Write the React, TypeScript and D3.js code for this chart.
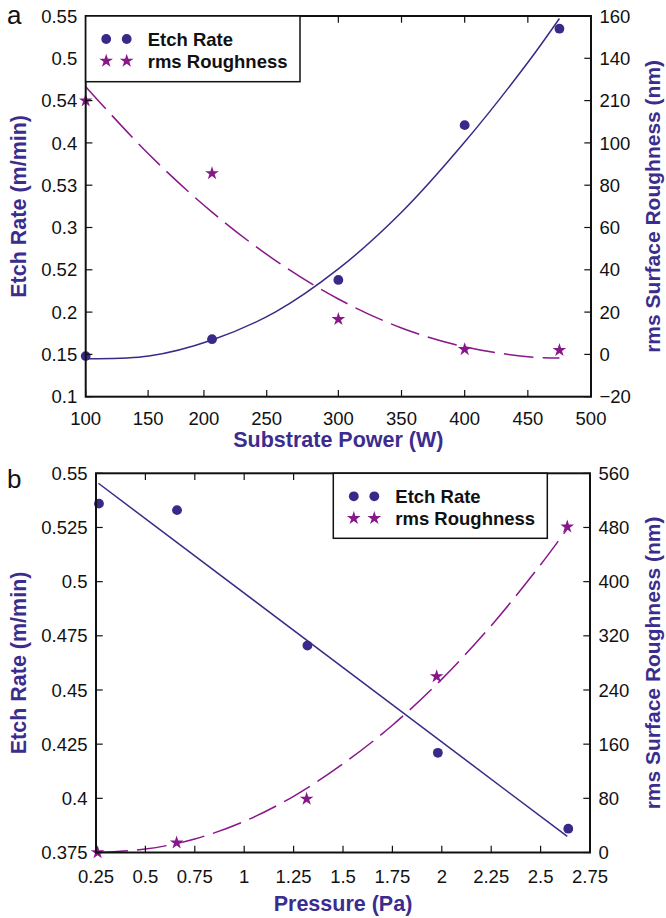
import React from 'react';
import * as d3 from 'd3';

// ---------- Panel a data ----------
const powerW = [100, 200, 300, 400, 475];
const etchRateA = [0.148, 0.168, 0.238, 0.421, 0.535];
const roughnessA = [120, 85.6, 16.6, 2.4, 2.0];
const etchFitPowerA = [100, 150, 200, 250, 300, 350, 400, 450, 475];
const etchFitA = [0.145, 0.148, 0.167, 0.2, 0.251, 0.318, 0.401, 0.495, 0.547];
const roughFitPowerA = [100, 150, 200, 250, 300, 350, 400, 450, 475];
const roughFitA = [126.6, 94.6, 67.3, 44.5, 26.2, 12.5, 3.6, -1.1, -1.7];
const xTickPosA = [100, 149.4, 193.6, 243.3, 300, 350, 400, 450, 500];
const xTickLabelsA = ['100', '150', '200', '250', '300', '350', '400', '450', '500'];
const yLeftTicksA = [0.1, 0.15, 0.2, 0.25, 0.3, 0.35, 0.4, 0.45, 0.5, 0.55];
const yLeftLabelsA = ['0.1', '0.15', '0.2', '0.52', '0.3', '0.53', '0.4', '0.54', '0.5', '0.55'];
const yRightTicksA = [-20, 0, 20, 40, 60, 80, 100, 120, 140, 160];
const yRightLabelsA = ['\u221220', '0', '20', '40', '60', '80', '100', '210', '140', '160'];

// ---------- Panel b data ----------
const pressurePa = [0.265, 0.66, 1.32, 1.98, 2.64];
const etchRateB = [0.536, 0.533, 0.4705, 0.421, 0.386];
const roughPressurePa = [0.258, 0.658, 1.316, 1.974, 2.635];
const roughnessB = [0, 14.5, 79, 260, 481];
const etchFitPressureB = [0.262, 2.635];
const etchFitB = [0.5454, 0.3824];
const roughFitPressureB = [0.26, 0.5, 0.75, 1.0, 1.25, 1.5, 1.75, 2.0, 2.25, 2.5, 2.635];
const roughFitB = [0, 5, 20, 46, 83, 131, 188, 256, 335, 425, 478];
const xTicksB = [0.25, 0.5, 0.75, 1, 1.25, 1.5, 1.75, 2, 2.25, 2.5, 2.75];
const xTickLabelsB = ['0.25', '0.5', '0.75', '1', '1.25', '1.5', '1.75', '2', '2.25', '2.5', '2.75'];
const yLeftTicksB = [0.375, 0.4, 0.425, 0.45, 0.475, 0.5, 0.525, 0.55];
const yLeftLabelsB = ['0.375', '0.4', '0.425', '0.45', '0.475', '0.5', '0.525', '0.55'];
const yRightTicksB = [0, 80, 160, 240, 320, 400, 480, 560];
const yRightLabelsB = ['0', '80', '160', '240', '320', '400', '480', '560'];

const legendLabels = ['Etch Rate', 'rms Roughness'];

const ETCH = '#372a88';
const ROUGH = '#88178a';
const TITLE = '#3a2d8e';
const FONT = '"Liberation Sans", Arial, Helvetica, sans-serif';

const starPath = d3.symbol().type(d3.symbolStar).size(58)()!;

type PanelProps = {
  letter: string;
  box: { l: number; r: number; t: number; b: number };
  xDomain: [number, number];
  yLDomain: [number, number];
  yRDomain: [number, number];
  xTicks: number[]; xLabels: string[];
  yLTicks: number[]; yLLabels: string[];
  yRTicks: number[]; yRLabels: string[];
  ptsX: number[]; ptsEtch: number[];
  starX: number[]; ptsRough: number[];
  fitEX: number[]; fitE: number[];
  fitRX: number[]; fitR: number[];
  xTitle: string; xTitleY: number; xLabelDy: number;
  legend: { x: number; y: number; w: number; h: number };
  letterY: number;
};

function Panel(p: PanelProps) {
  const { l, r, t, b } = p.box;
  const x = d3.scaleLinear().domain(p.xDomain).range([l, r]);
  const yL = d3.scaleLinear().domain(p.yLDomain).range([b, t]);
  const yR = d3.scaleLinear().domain(p.yRDomain).range([b, t]);
  const lineE = d3.line<number>().x((_, i) => x(p.fitEX[i])).y((d) => yL(d)).curve(d3.curveCatmullRom);
  const lineR = d3.line<number>().x((_, i) => x(p.fitRX[i])).y((d) => yR(d)).curve(d3.curveCatmullRom);
  const tk = 6.7;
  const cy = (t + b) / 2;
  const lg = p.legend;
  return (
    <g>
      <text x={7} y={p.letterY} fontSize={26} fontFamily={FONT} fill="#111">{p.letter}</text>
      {/* fits */}
      <path d={lineE(p.fitE) || ''} fill="none" stroke={ETCH} strokeWidth={1.5} />
      <path d={lineR(p.fitR) || ''} fill="none" stroke={ROUGH} strokeWidth={1.5} strokeDasharray="30,9" />
      {/* points */}
      {p.ptsEtch.map((v, i) => (
        <circle key={'e' + i} cx={x(p.ptsX[i])} cy={yL(v)} r={4.9} fill={ETCH} />
      ))}
      {p.ptsRough.map((v, i) => (
        <path key={'r' + i} d={starPath} transform={`translate(${x(p.starX[i])},${yR(v)})`} fill={ROUGH} />
      ))}
      {/* ticks */}
      {p.xTicks.map((v, i) => (
        <g key={'x' + i}>
          <line x1={x(v)} x2={x(v)} y1={b} y2={b - tk} stroke="#111" strokeWidth={1.2} />
          <line x1={x(v)} x2={x(v)} y1={t} y2={t + tk} stroke="#111" strokeWidth={1.2} />
          <text x={x(v)} y={b + p.xLabelDy} textAnchor="middle" fontSize={18.5} fontFamily={FONT} fill="#111">{p.xLabels[i]}</text>
        </g>
      ))}
      {p.yLTicks.map((v, i) => (
        <g key={'yl' + i}>
          <line x1={l} x2={l + tk} y1={yL(v)} y2={yL(v)} stroke="#111" strokeWidth={1.2} />
          <text x={l - 8.5} y={yL(v)} dy="0.36em" textAnchor="end" fontSize={18.5} fontFamily={FONT} fill="#111">{p.yLLabels[i]}</text>
        </g>
      ))}
      {p.yRTicks.map((v, i) => (
        <g key={'yr' + i}>
          <line x1={r} x2={r - tk} y1={yR(v)} y2={yR(v)} stroke="#111" strokeWidth={1.2} />
          <text x={r + 8.5} y={yR(v)} dy="0.36em" textAnchor="start" fontSize={18.5} fontFamily={FONT} fill="#111">{p.yRLabels[i]}</text>
        </g>
      ))}
      {/* frame */}
      <rect x={l} y={t} width={r - l} height={b - t} fill="none" stroke="#111" strokeWidth={2} />
      {/* legend */}
      <rect x={lg.x} y={lg.y} width={lg.w} height={lg.h} fill="#fff" stroke="#111" strokeWidth={1.5} />
      {legendLabels.map((lab, i) => {
        const yy = lg.y + 23 + i * 22;
        return (
          <g key={'lg' + i}>
            {i === 0 ? (
              <>
                <circle cx={lg.x + 20.5} cy={yy} r={4.9} fill={ETCH} />
                <circle cx={lg.x + 41} cy={yy} r={4.9} fill={ETCH} />
              </>
            ) : (
              <>
                <path d={starPath} transform={`translate(${lg.x + 20.5},${yy})`} fill={ROUGH} />
                <path d={starPath} transform={`translate(${lg.x + 41},${yy})`} fill={ROUGH} />
              </>
            )}
            <text x={lg.x + 62} y={yy} dy="0.36em" fontSize={18.5} fontWeight="bold" fontFamily={FONT} fill="#111">{lab}</text>
          </g>
        );
      })}
      {/* titles */}
      <text x={(l + r) / 2} y={p.xTitleY} textAnchor="middle" fontSize={21.5} fontWeight="bold" fontFamily={FONT} fill={TITLE}>{p.xTitle}</text>
      <text transform={`translate(26,${cy}) rotate(-90)`} textAnchor="middle" fontSize={21.5} fontWeight="bold" fontFamily={FONT} fill={TITLE}>Etch Rate (m/min)</text>
      <text transform={`translate(660,${cy}) rotate(-90)`} textAnchor="middle" fontSize={21} fontWeight="bold" fontFamily={FONT} fill={TITLE}>rms Surface Roughness (nm)</text>
    </g>
  );
}

export default function App() {
  return (
    <svg width={666} height={918} style={{ position: 'absolute', left: 0, top: 0, background: '#fff' }}>
      <rect x={0} y={0} width={666} height={918} fill="#fff" />
      <Panel
        letter="a"
        letterY={24}
        box={{ l: 85.7, r: 591, t: 16, b: 396.7 }}
        xDomain={[100, 500]}
        yLDomain={[0.1, 0.55]}
        yRDomain={[-20, 160]}
        xTicks={xTickPosA} xLabels={xTickLabelsA}
        yLTicks={yLeftTicksA} yLLabels={yLeftLabelsA}
        yRTicks={yRightTicksA} yRLabels={yRightLabelsA}
        ptsX={powerW} ptsEtch={etchRateA}
        starX={powerW} ptsRough={roughnessA}
        fitEX={etchFitPowerA} fitE={etchFitA}
        fitRX={roughFitPowerA} fitR={roughFitA}
        xTitle="Substrate Power (W)" xTitleY={446.5} xLabelDy={28.5}
        legend={{ x: 85.7, y: 16, w: 214.3, h: 65.7 }}
      />
      <Panel
        letter="b"
        letterY={488}
        box={{ l: 96, r: 590, t: 473.3, b: 852.5 }}
        xDomain={[0.25, 2.75]}
        yLDomain={[0.375, 0.55]}
        yRDomain={[0, 560]}
        xTicks={xTicksB} xLabels={xTickLabelsB}
        yLTicks={yLeftTicksB} yLLabels={yLeftLabelsB}
        yRTicks={yRightTicksB} yRLabels={yRightLabelsB}
        ptsX={pressurePa} ptsEtch={etchRateB}
        starX={roughPressurePa} ptsRough={roughnessB}
        fitEX={etchFitPressureB} fitE={etchFitB}
        fitRX={roughFitPressureB} fitR={roughFitB}
        xTitle="Pressure (Pa)" xTitleY={911} xLabelDy={30.5}
        legend={{ x: 333.3, y: 473.3, w: 214, h: 65 }}
      />
    </svg>
  );
}
